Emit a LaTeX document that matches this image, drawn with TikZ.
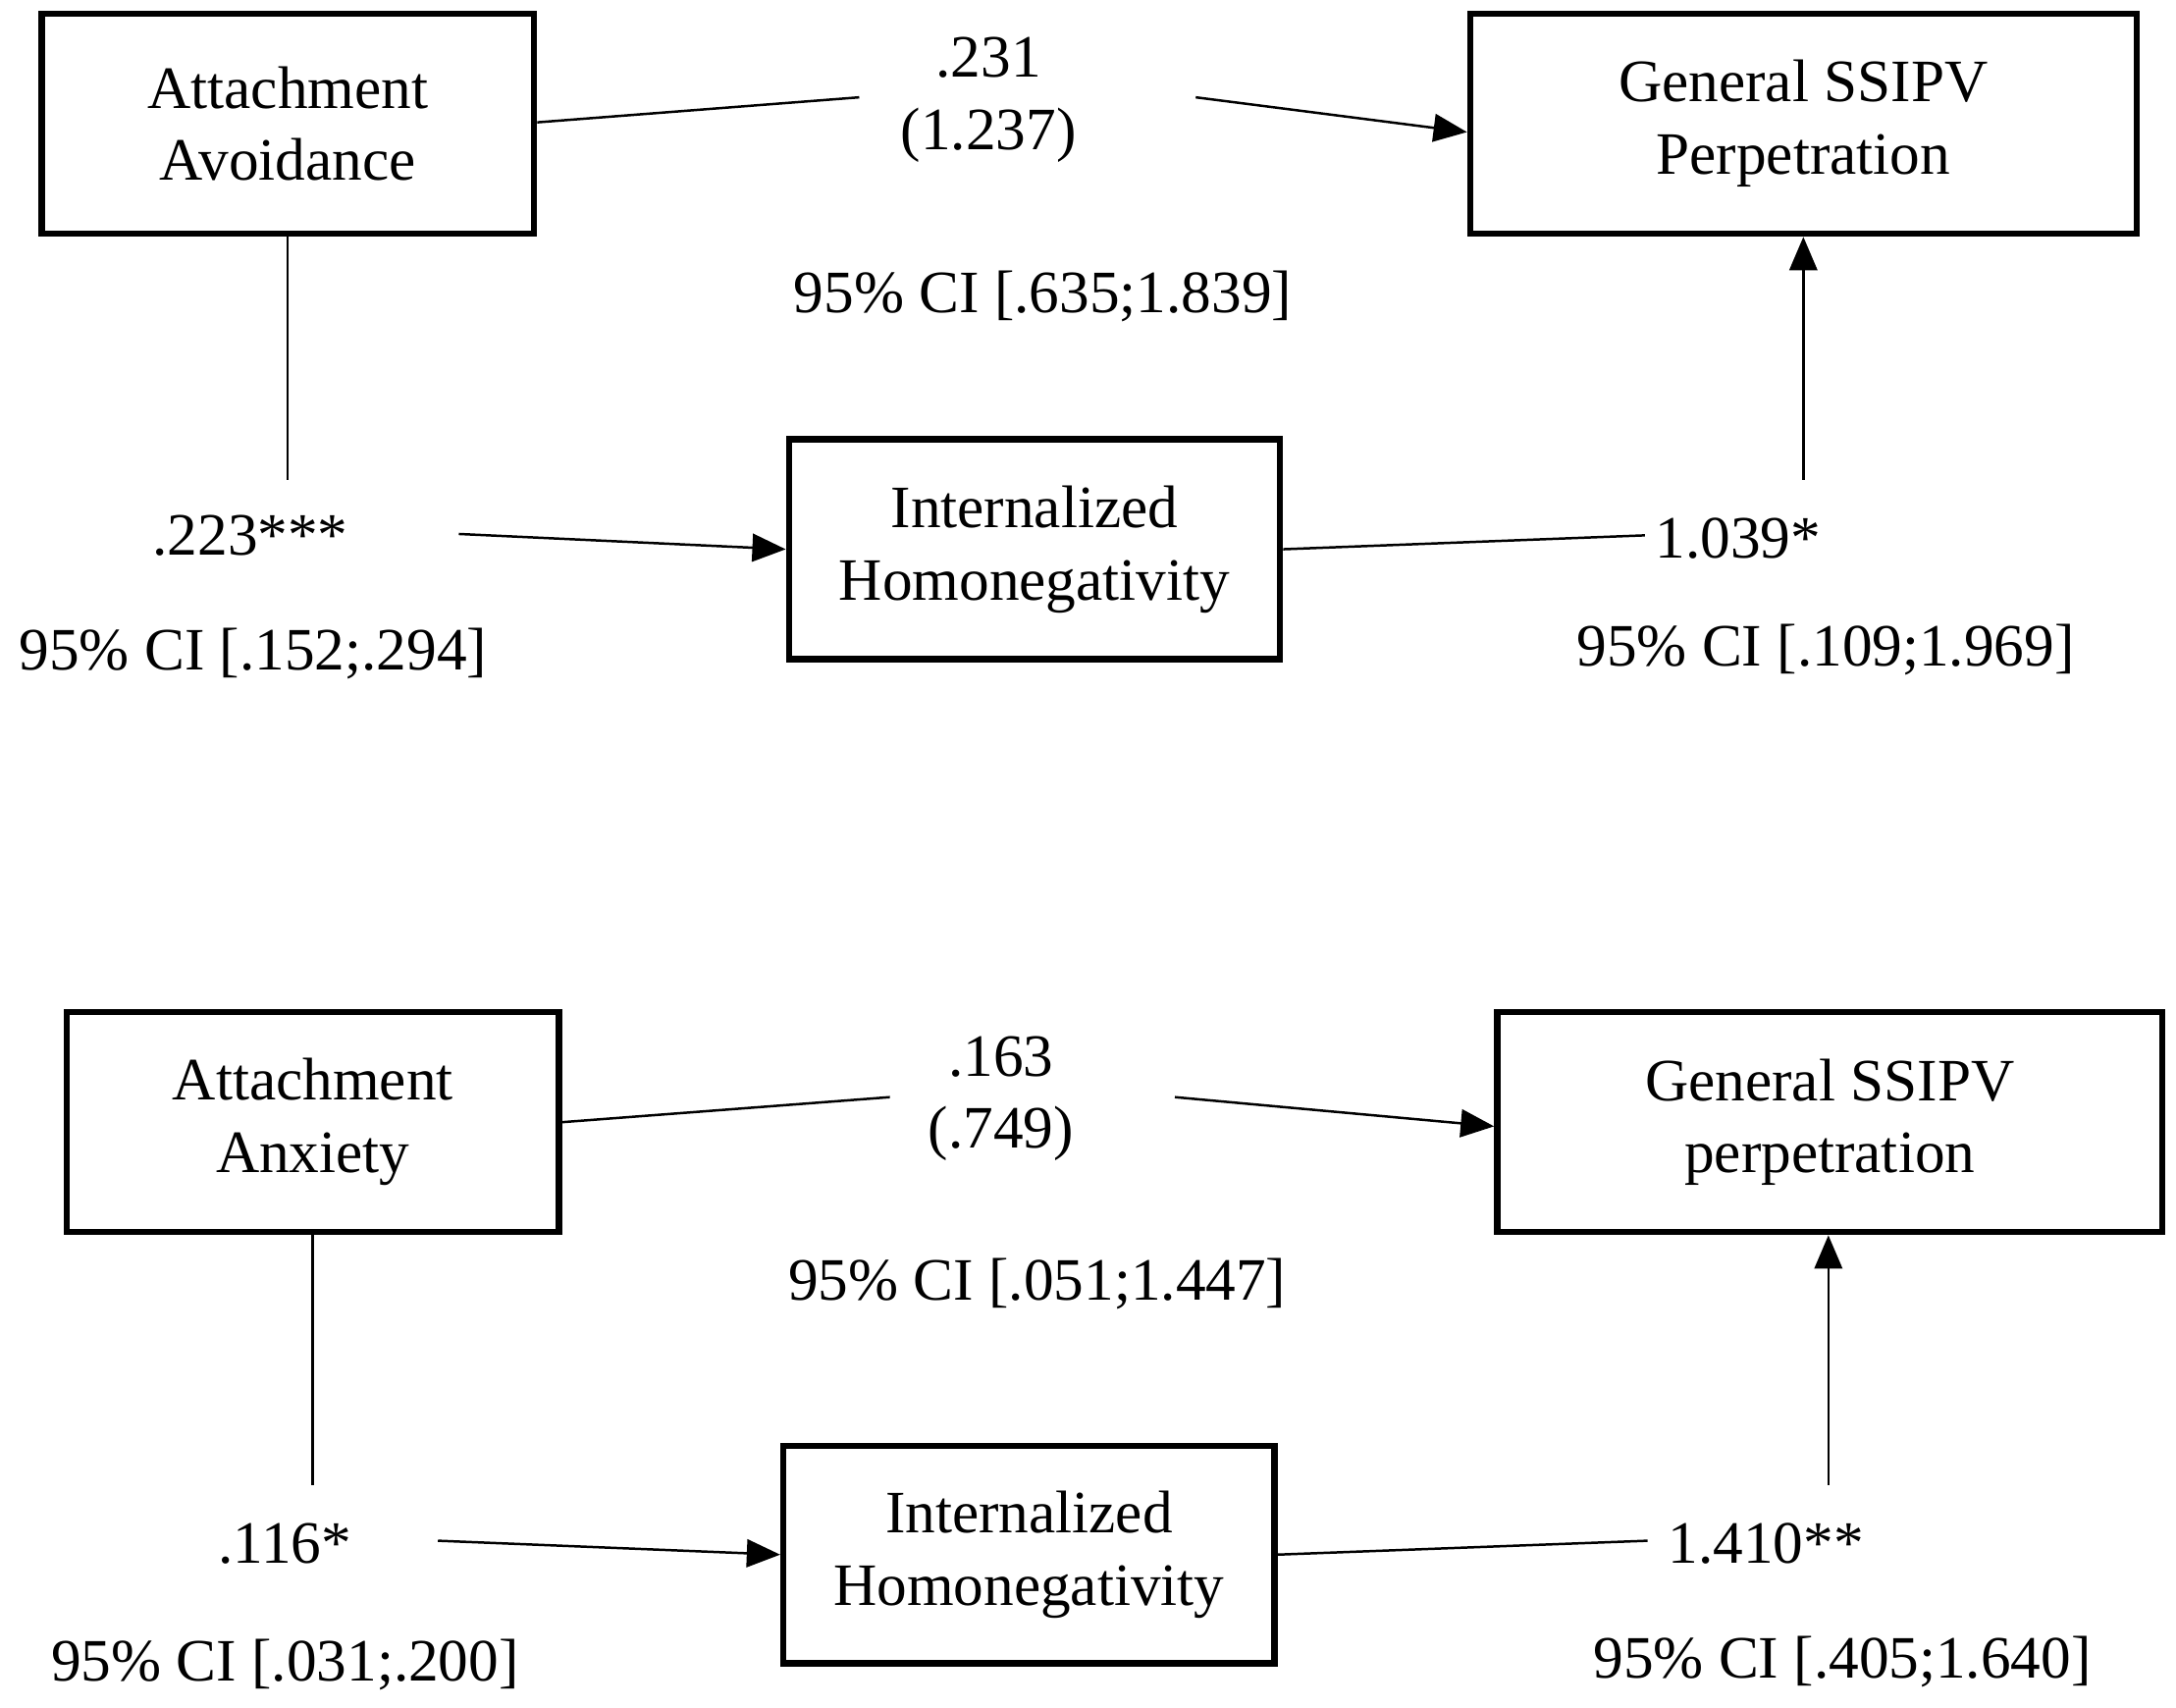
\documentclass[tikz,border=0pt]{standalone}
\usepackage{fontspec}
\setmainfont{Liberation Serif}
\usetikzlibrary{arrows.meta}
\tikzstyle{every node}=[font=\fontsize{12.3}{14.8}\selectfont, align=center, inner sep=0pt]
\tikzstyle{var}=[draw, line width=1.3pt, minimum height=1.58cm]
\tikzstyle{path}=[line width=0.5pt]
\tikzstyle{arr}=[line width=0.5pt, -{Triangle[length=2.4mm, width=2mm]}]

\begin{document}
\begin{tikzpicture}[x=0.01cm, y=-0.01cm]
\useasboundingbox (0,0) rectangle (1565,1228);
% Avoidance model
    \node[var, minimum width=3.54cm] (avoid) at (207,89) {Attachment\\Avoidance};
    \node[var, minimum width=4.79cm] (perpA) at (1297,89) {General SSIPV\\Perpetration};
    \node[var, minimum width=3.53cm] (homA) at (744,395) {Internalized\\Homonegativity};
    \node (cA) at (711,72) {.231\\(1.237)};
    \node (ciA) at (750,213) {95\% CI [.635;1.839]};
    \node (aA) at (180,385) {.223***};
    \node (ciaA) at (182,470) {95\% CI [.152;.294]};
    \node (bA) at (1250,387) {1.039*};
    \node (cibA) at (1313,467) {95\% CI [.109;1.969]};
    \coordinate (cA1) at (618,70);
    \coordinate (cA2) at (860,70);
    \coordinate (aA1) at (207,345);
    \coordinate (aA2) at (330,384);
    \coordinate (bA1) at (1183,385);
    \coordinate (bA2) at (1297,345);
    \draw[path] (avoid.east |- 0,88) -- (cA1);
    \draw[arr] (cA2) -- (perpA.west |- 0,95);
    \draw[path] (avoid.south) -- (aA1);
    \draw[arr] (aA2) -- (homA.west);
    \draw[path] (homA.east) -- (bA1);
    \draw[arr] (bA2) -- (perpA.south);
% Anxiety model
    \node[var, minimum width=3.54cm] (anx) at (225,807) {Attachment\\Anxiety};
    \node[var, minimum width=4.78cm] (perpB) at (1316,807) {General SSIPV\\perpetration};
    \node[var, minimum width=3.53cm, minimum height=1.56cm] (homB) at (740,1118) {Internalized\\Homonegativity};
    \node (cB) at (720,790) {.163\\(.749)};
    \node (ciB) at (746,923) {95\% CI [.051;1.447]};
    \node (aB) at (205,1110) {.116*};
    \node (ciaB) at (205,1197) {95\% CI [.031;.200]};
    \node (bB) at (1270,1110) {1.410**};
    \node (cibB) at (1325,1195) {95\% CI [.405;1.640]};
    \coordinate (cB1) at (640,789);
    \coordinate (cB2) at (845,789);
    \coordinate (aB1) at (225,1068);
    \coordinate (aB2) at (315,1108);
    \coordinate (bB1) at (1185,1108);
    \coordinate (bB2) at (1315,1068);
    \draw[path] (anx.east) -- (cB1);
    \draw[arr] (cB2) -- (perpB.west |- 0,810);
    \draw[path] (anx.south) -- (aB1);
    \draw[arr] (aB2) -- (homB.west);
    \draw[path] (homB.east) -- (bB1);
    \draw[arr] (bB2) -- (bB2 |- perpB.south);
\end{tikzpicture}
\end{document}
